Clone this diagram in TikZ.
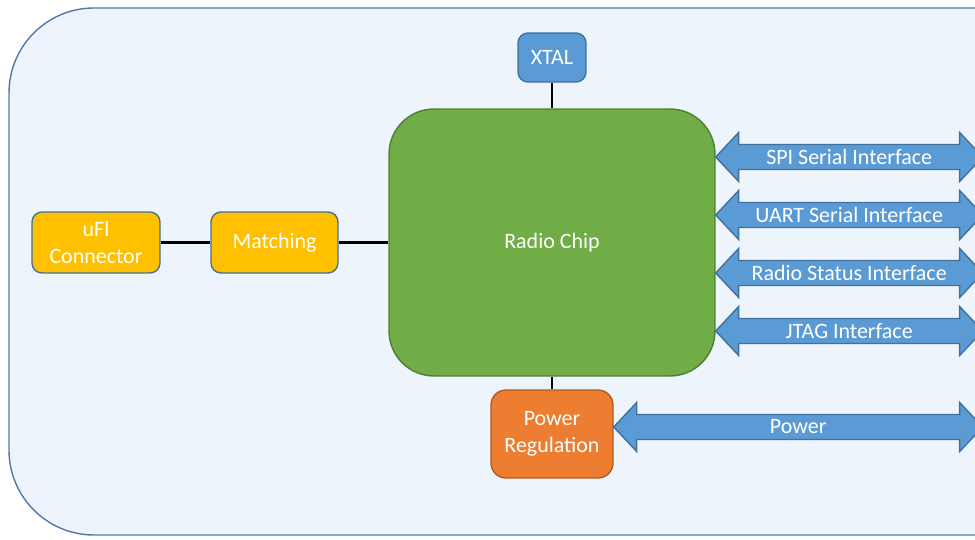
\documentclass[tikz,border=0pt]{standalone}
\usepackage{fontspec}
\setmainfont{Carlito}
\usepackage{xcolor}

\definecolor{boardfill}{HTML}{EEF4FB}
\definecolor{boardline}{HTML}{4F7BAA}
\definecolor{chipgreen}{HTML}{70AD47}
\definecolor{chipline}{HTML}{507E32}
\definecolor{blockblue}{HTML}{5B9BD5}
\definecolor{blueline}{HTML}{41719C}
\definecolor{pwrorange}{HTML}{ED7D31}
\definecolor{pwrline}{HTML}{AE5A21}
\definecolor{rfgold}{HTML}{FFC000}

% double headed bus arrow: #1 start point, #2 length, #3 node name, #4 label
\newcommand{\busarrow}[4]{%
  \draw[bus] #1 -- ++(23,-24.5) -- ++(0,12) -- ++({#2-46},0) -- ++(0,-12)
    -- ++(23,24.5) -- ++(-23,24.5) -- ++(0,-12) -- ++({46-#2},0) -- ++(0,12) -- cycle;
  \path #1 ++({#2/2},0) node[bustext] (#3) {#4};
}

\begin{document}
\begin{tikzpicture}[
    x=0.02cm, y=-0.02cm,
    block/.style={rectangle, rounded corners=0.2cm, draw, thick, text=white, align=center, font=\fontsize{12.5}{15}\selectfont},
    bus/.style={draw=blueline, thick, fill=blockblue, line join=miter},
    bustext/.style={text=white, inner sep=0pt, font=\fontsize{12.5}{15}\selectfont},
    wire/.style={black, line width=1.4pt}
]
\useasboundingbox (0,0) rectangle (975,540);
\clip (0,0) rectangle (975,540);
\draw[boardline, fill=boardfill, thick, rounded corners=1.7cm] (9,8) rectangle (1060,535);

\node[block, fill=chipgreen, draw=chipline, rounded corners=0.9cm, minimum width=6.52cm, minimum height=5.34cm] (chip) at (552,242.5) {Radio Chip};
\node[block, fill=blockblue, draw=blueline, minimum width=1.36cm, minimum height=0.98cm] (xtal) at (552,57.5) {XTAL};
\node[block, fill=pwrorange, draw=pwrline, rounded corners=0.3cm, minimum width=2.44cm, minimum height=1.76cm] (pwr) at (552,434) {Power\\Regulation};
\node[block, fill=rfgold, draw=blueline, minimum width=2.56cm, minimum height=1.22cm] (ufl) at (96,242.5) {uFl\\Connector};
\node[block, fill=rfgold, draw=blueline, minimum width=2.54cm, minimum height=1.22cm] (match) at (274.5,242.5) {Matching};

\draw[wire] (xtal) -- (chip);
\draw[wire] (chip) -- (pwr);
\draw[wire] (ufl) -- (match);
\draw[wire] (match) -- (chip);

\busarrow{(chip.east |- 0,157)}{267}{spi}{SPI Serial Interface}
\busarrow{(chip.east |- 0,215)}{267}{uart}{UART Serial Interface}
\busarrow{(chip.east |- 0,273)}{267}{status}{Radio Status Interface}
\busarrow{(chip.east |- 0,331)}{267}{jtag}{JTAG Interface}
\busarrow{(pwr.east |- 0,427)}{369}{power}{Power}
\end{tikzpicture}
\end{document}
